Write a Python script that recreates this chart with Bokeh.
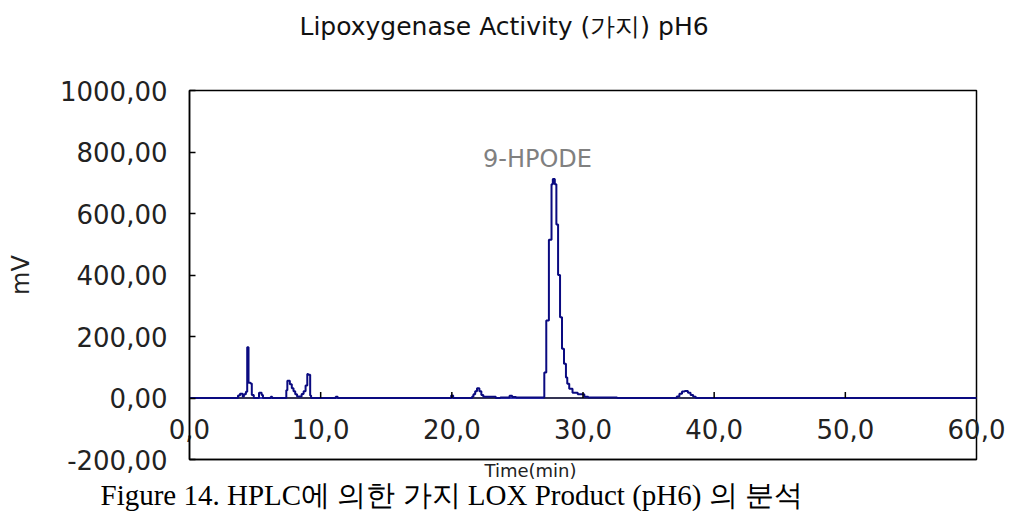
import math
from bokeh.plotting import figure
from bokeh.models import Range1d, FixedTicker, Label, Title
from bokeh.embed import file_html
from bokeh.resources import INLINE

# ---- data ----
time_min = [0.0, 3.6, 3.7, 3.85, 4.05, 4.15, 4.3, 4.4, 4.5, 4.65, 4.75, 4.9,
            5.2, 5.3, 5.5, 5.6, 6.2, 6.3,
            7.3, 7.38, 7.46, 7.65, 7.8, 7.93, 8.06, 8.2, 8.55, 8.7, 8.85, 8.98, 9.05, 9.2, 9.27,
            11.15, 11.3,
            19.95, 20.1, 21.55, 21.65, 21.78, 21.92, 22.1, 22.25, 22.4, 23.35,
            23.7, 24.4, 24.6, 24.9, 27.0,
            27.05, 27.2, 27.4, 27.6, 27.7, 27.85, 27.97, 28.1, 28.25, 28.4, 28.55, 28.7,
            28.8, 28.95, 29.2, 29.6, 30.1, 30.4, 32.6,
            37.15, 37.35, 37.55, 37.75, 38.0, 38.2, 38.4, 38.6, 60.0]
signal_mv = [0, 0, 8, 14, 5, 12, 20, 165, 50, 47, 10, 0,
             0, 17, 10, 0, 4, 0,
             0, 25, 56, 45, 32, 22, 12, 5, 13, 22, 41, 78, 76, 8, 0,
             4, 0,
             8, 0, 5, 12, 22, 32, 22, 10, 4, 0,
             2, 7, 3, 2, 2,
             83, 252, 515, 695, 712, 695, 564, 400, 263, 160, 111, 67,
             46, 30, 17, 12, 4, 2, 0,
             5, 14, 21, 23, 17, 10, 4, 0, 0]

base_start = [3.6, 7.3, 21.5, 27.0, 37.15]
base_end = [4.9, 9.3, 23.4, 32.6, 38.6]

x_ticks = [0, 10, 20, 30, 40, 50, 60]
x_labels = ["0,0", "10,0", "20,0", "30,0", "40,0", "50,0", "60,0"]
y_ticks = [-200, 0, 200, 400, 600, 800, 1000]
y_labels = ["-200,00", "0,00", "200,00", "400,00", "600,00", "800,00", "1000,00"]

title_text = "Lipoxygenase Activity (가지) pH6"
peak_name = "9-HPODE"
x_title = "Time(min)"
y_title = "mV"
caption = "Figure 14. HPLC에 의한 가지 LOX Product (pH6) 의 분석"

FONT = "DejaVu Sans"

p = figure(width=1011, height=511, output_backend="svg", toolbar_location=None,
           x_range=Range1d(0, 60), y_range=Range1d(-200, 1000),
           min_border_left=189, min_border_right=35, min_border_top=90, min_border_bottom=52)
p.background_fill_color = "white"
p.border_fill_color = "white"
p.outline_line_color = "black"
p.outline_line_width = 1.5
p.xgrid.visible = False
p.ygrid.visible = False

# main title (outermost in the top panel), pushed up by a blank spacer title
p.title.text = title_text
p.title.align = "left"
p.title.offset = 110
p.title.standoff = 17
p.title.text_font = FONT
p.title.text_font_size = "25px"
p.title.text_font_style = "normal"
p.title.text_color = "#111111"
p.add_layout(Title(text=" ", text_font_size="10px", standoff=28), "above")

# y axis
ya = p.yaxis[0]
ya.ticker = FixedTicker(ticks=y_ticks)
ya.major_label_overrides = {t: l for t, l in zip(y_ticks, y_labels)}
ya.major_tick_in = 6
ya.major_tick_out = 0
ya.minor_tick_in = 0
ya.minor_tick_out = 0
ya.axis_line_color = "black"
ya.axis_line_width = 1.5
ya.major_tick_line_color = "black"
ya.major_tick_line_width = 1.5
ya.major_label_text_font = FONT
ya.major_label_text_font_size = "26px"
ya.major_label_text_color = "#222222"
ya.major_label_standoff = 22
ya.axis_label = y_title
ya.axis_label_text_font = FONT
ya.axis_label_text_font_size = "24px"
ya.axis_label_text_font_style = "normal"
ya.axis_label_text_color = "#222222"
ya.axis_label_standoff = 22

# x axis: labels pulled up so that they sit just under the zero line
xa = p.xaxis[0]
xa.ticker = FixedTicker(ticks=x_ticks)
xa.major_label_overrides = {t: l for t, l in zip(x_ticks, x_labels)}
xa.major_tick_in = 0
xa.major_tick_out = 0
xa.minor_tick_in = 0
xa.minor_tick_out = 0
xa.axis_line_color = "black"
xa.axis_line_width = 1.5
xa.major_label_text_font = FONT
xa.major_label_text_font_size = "26px"
xa.major_label_text_color = "#222222"
xa.major_label_standoff = -41

# zero line (baseline of the detector trace)
p.line(x=[x_ticks[0], x_ticks[-1]], y=[0, 0], line_color="#3a3ab4", line_width=2)
# integration baselines under the peaks
p.segment(x0=base_start, y0=[0] * len(base_start), x1=base_end, y1=[0] * len(base_end),
          line_color="#333333", line_width=1.5)
# the trace
p.step(x=time_min, y=signal_mv, mode="after", line_color="#0a0a80", line_width=2)

# x axis ticks on the zero line
tick_len_units = 6 / (369 / 1200)
p.segment(x0=x_ticks[1:-1], y0=[0] * 5, x1=x_ticks[1:-1], y1=[tick_len_units] * 5,
          line_color="black", line_width=1.5)

# peak name, inside the frame
p.add_layout(Label(x=348, y=301, x_units="screen", y_units="screen", text=peak_name,
                   text_align="center", text_baseline="middle",
                   text_font=FONT, text_font_size="24px", text_color="#808080"))

# x title and caption below the frame
p.add_layout(Title(text=x_title, align="left", offset=295, standoff=-4,
                   text_font=FONT, text_font_size="18px", text_font_style="normal",
                   text_color="#222222"), "below")
p.add_layout(Title(text=caption, align="left", offset=-89, standoff=-4,
                   text_font="Liberation Serif", text_font_size="29px", text_font_style="normal",
                   text_color="black"), "below")

open("out.html", "w").write(file_html(p, INLINE))
